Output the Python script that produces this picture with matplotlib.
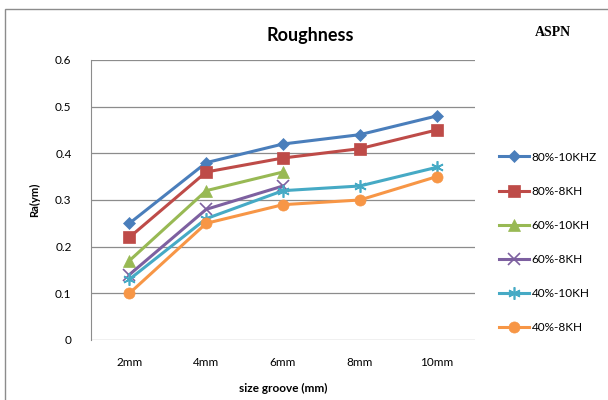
import matplotlib
matplotlib.use('Agg')
import matplotlib.pyplot as plt
from matplotlib.patches import Rectangle

plt.rcParams['font.family'] = ['Lato', 'DejaVu Sans']

categories = ['2mm', '4mm', '6mm', '8mm', '10mm']
series_names = ['80%-10KHZ', '80%-8KH', '60%-10KH', '60%-8KH', '40%-10KH', '40%-8KH']
s_80_10 = [0.25, 0.38, 0.42, 0.44, 0.48]
s_80_8 = [0.22, 0.36, 0.39, 0.41, 0.45]
s_60_10 = [0.17, 0.32, 0.36]
s_60_8 = [0.14, 0.28, 0.33]
s_40_10 = [0.13, 0.26, 0.32, 0.33, 0.37]
s_40_8 = [0.10, 0.25, 0.29, 0.30, 0.35]
yticks = [0, 0.1, 0.2, 0.3, 0.4, 0.5, 0.6]

colors = ['#4A7EBB', '#BE4B48', '#98B954', '#7D60A0', '#46AAC5', '#F79646']
markers = ['D', 's', '^', 'x', (6, 2, 0), 'o']
msizes = [6, 8, 8, 8, 9, 8]

fig = plt.figure(figsize=(6.08, 4.0), dpi=100)
fig.patches.append(Rectangle((5 / 608, -0.01), 1.0, 1 - 9 / 400 + 0.01,
                             transform=fig.transFigure, fill=False,
                             edgecolor='#8C8C8C', linewidth=1.0))
ax = fig.add_axes([91 / 608, 60 / 400, 384 / 608, 280 / 400])

data = [s_80_10, s_80_8, s_60_10, s_60_8, s_40_10, s_40_8]
for name, vals, c, m, ms in zip(series_names, data, colors, markers, msizes):
    x = list(range(len(vals)))
    ax.plot(x, vals, color=c, marker=m, markersize=ms, linewidth=2.2,
            markeredgewidth=1.2 if m in ('x', (6, 2, 0)) else 0.5,
            markeredgecolor=c, label=name)

ax.set_xlim(-0.5, len(categories) - 0.5)
ax.set_ylim(0, 0.6)
ax.set_xticks(range(len(categories)))
ax.set_xticklabels(categories)
ax.set_yticks(yticks)
ax.set_yticklabels([('%g' % v) for v in yticks])
ax.tick_params(axis='both', length=0, labelsize=8.5, pad=12)
ax.tick_params(axis='y', pad=14)
ax.grid(axis='y', color='#8C8C8C', linewidth=0.9)
ax.set_axisbelow(True)
for sp in ['top', 'right', 'bottom']:
    ax.spines[sp].set_visible(False)
ax.spines['left'].set_color('#8C8C8C')

fig.text(310 / 608, 1 - 35 / 400, 'Roughness', ha='center', va='center',
         fontsize=13, fontweight='bold')
fig.text(553 / 608, 1 - 32 / 400, 'ASPN', ha='center', va='center',
         fontsize=10, fontweight='bold', family='Liberation Serif')
fig.text(35 / 608, 1 - 200 / 400, 'Ra(ym)', ha='center', va='center',
         rotation=90, fontsize=8, fontweight='bold')
fig.text(283 / 608, 1 - 388 / 400, 'size groove (mm)', ha='center', va='center',
         fontsize=8.5, fontweight='bold')

fig.legend(loc='upper left', bbox_to_anchor=(488 / 608, 1 - 141 / 400),
           frameon=False, fontsize=8.5, handlelength=2.6, labelspacing=1.95,
           handletextpad=0.2)

fig.savefig('out.png', dpi=100)
